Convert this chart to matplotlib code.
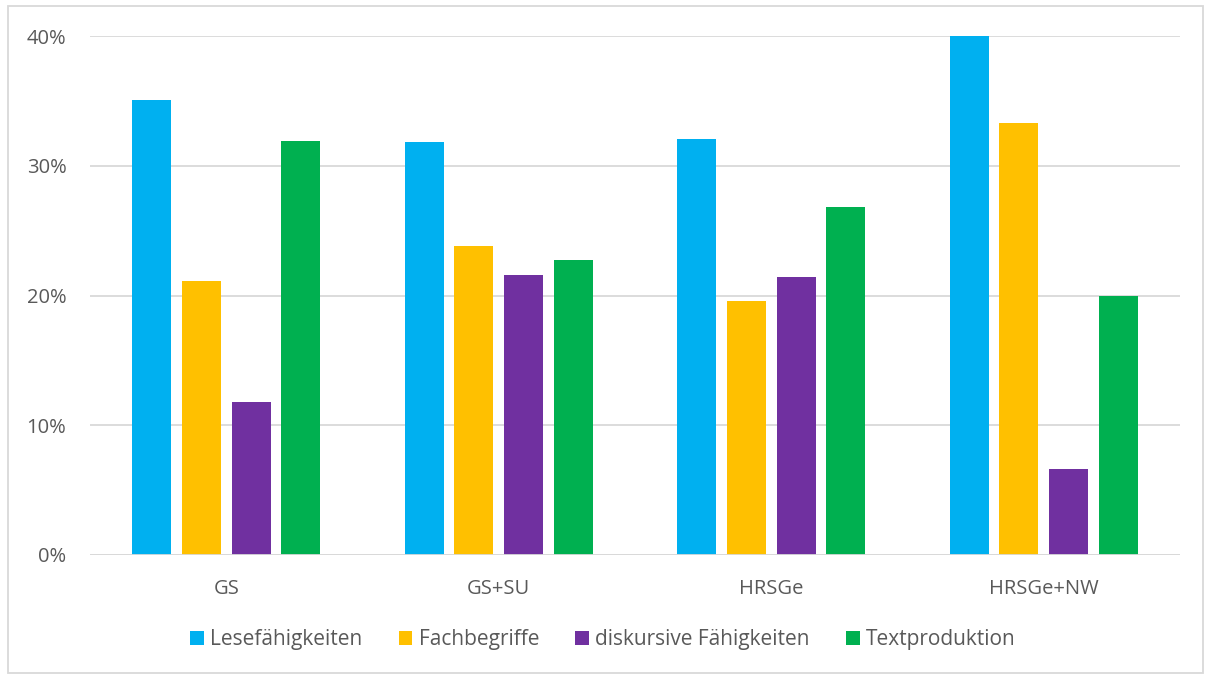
import matplotlib.pyplot as plt
import numpy as np
from matplotlib.patches import Rectangle
from matplotlib.ticker import PercentFormatter

plt.rcParams['font.family'] = ['Open Sans', 'DejaVu Sans']

categories = ['GS', 'GS+SU', 'HRSGe', 'HRSGe+NW']
series_names = ['Lesefähigkeiten', 'Fachbegriffe', 'diskursive Fähigkeiten', 'Textproduktion']
lese = [35.1, 31.8, 32.1, 40.0]
fach = [21.1, 23.8, 19.6, 33.3]
diskursiv = [11.8, 21.6, 21.4, 6.6]
text = [31.9, 22.7, 26.8, 20.0]
colors = ['#00B0F0', '#FFC000', '#7030A0', '#00B050']

fig = plt.figure(figsize=(12.06, 6.75), dpi=100)
ax = fig.add_axes([90 / 1206, 1 - 555 / 675, 1090 / 1206, 519 / 675])

x = np.arange(len(categories))
width = 0.143
step = 0.182
for i, (vals, name, c) in enumerate(zip([lese, fach, diskursiv, text], series_names, colors)):
    ax.bar(x + (i - 1.5) * step, vals, width=width, color=c, label=name, zorder=3)

ax.set_xlim(-0.5, len(categories) - 0.5)
ax.set_ylim(0, 40)
ax.set_yticks([0, 10, 20, 30, 40])
ax.yaxis.set_major_formatter(PercentFormatter(decimals=0))
ax.set_xticks(x)
ax.set_xticklabels(categories)
ax.grid(axis='y', color='#D9D9D9', linewidth=1.3, zorder=0)
ax.axhline(0, color='#D9D9D9', linewidth=1.3, zorder=4)
for s in ax.spines.values():
    s.set_visible(False)
ax.tick_params(axis='both', length=0, colors='#595959', labelsize=14.5)
ax.tick_params(axis='y', pad=17)
ax.tick_params(axis='x', pad=17)

leg = fig.legend(loc='center', bbox_to_anchor=(0.5, 1 - 640 / 675), ncol=4, frameon=False,
                 fontsize=15, handlelength=0.65, handleheight=0.65, handletextpad=0.3,
                 columnspacing=1.75, labelcolor='#595959')

# outer chart border
fig.patches.append(Rectangle((8 / 1206, 2 / 675), 1195 / 1206, 667 / 675, transform=fig.transFigure,
                             fill=False, edgecolor='#D9D9D9', linewidth=1.3))

fig.savefig('out.png', dpi=100)
